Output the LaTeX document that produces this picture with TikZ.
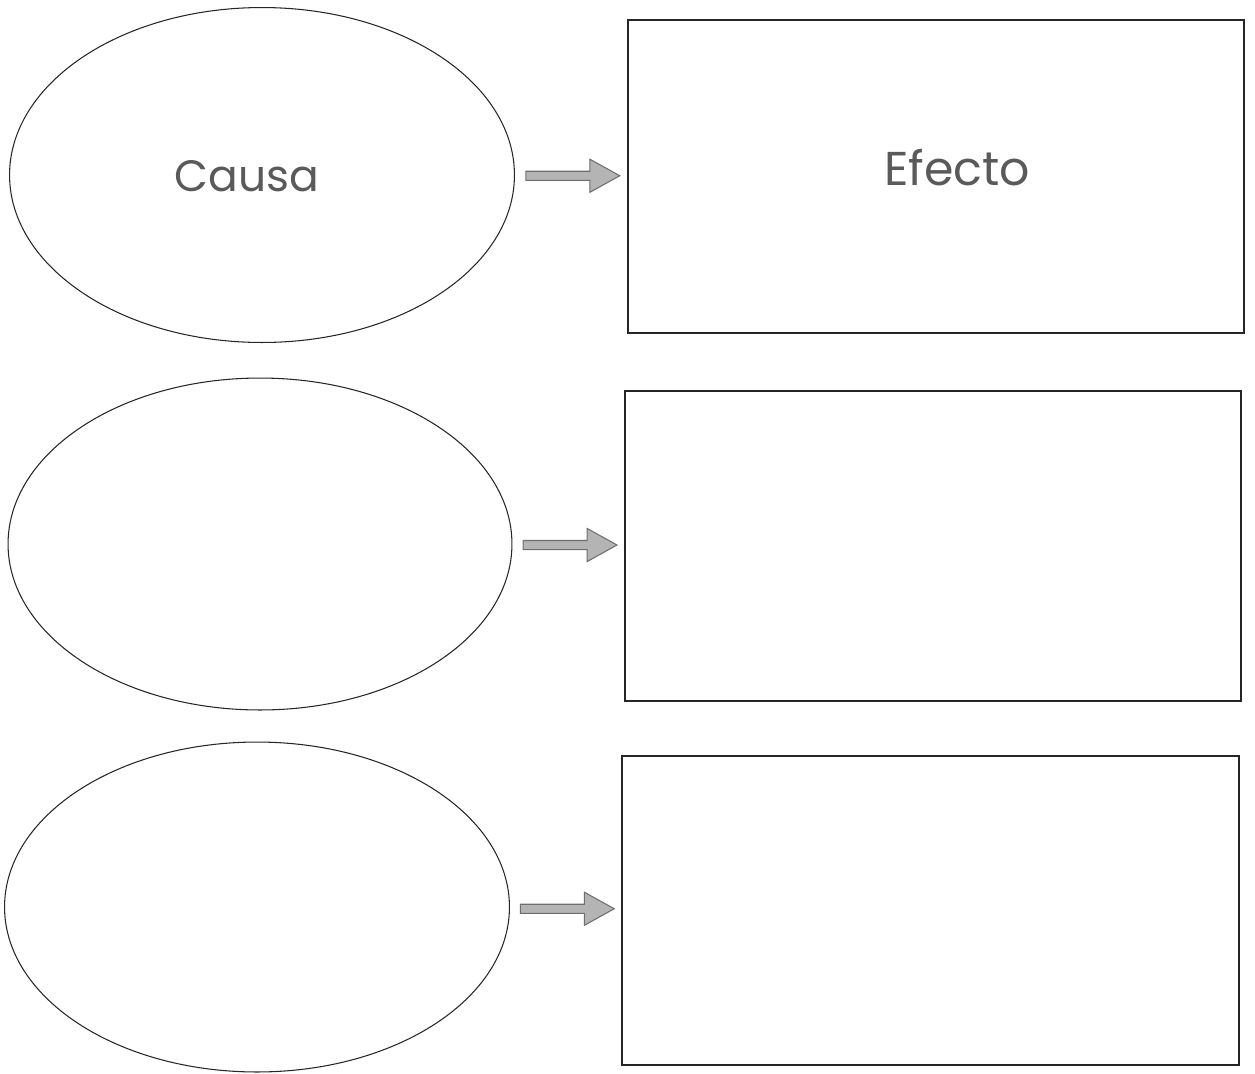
\documentclass[tikz,border=0pt]{standalone}
\usepackage{fontspec}
\setmainfont{Poppins}
\usetikzlibrary{shapes.geometric,shapes.arrows,calc}
\definecolor{txtgray}{HTML}{5A5A5A}
\definecolor{arrfill}{HTML}{B4B4B4}
\definecolor{arredge}{HTML}{6E6E6E}
\tikzset{
  causa/.style={ellipse, draw=black!85, line width=0.6pt, inner sep=0pt},
  efecto/.style={rectangle, draw=black!85, line width=0.75pt, inner sep=0pt},
  grayarrow/.style={single arrow, draw=arredge, fill=arrfill, line width=0.6pt,
    inner sep=0pt, inner ysep=0.08cm, minimum height=1.88cm,
    single arrow head extend=0.24cm, single arrow tip angle=58, xshift=-0.05cm},
  lbl/.style={text=txtgray, font=\fontsize{27}{30}\selectfont}
}
\begin{document}
\begin{tikzpicture}[x=0.02cm,y=-0.02cm]
\useasboundingbox (0,0) rectangle (1255,1073);
% row 1
\node[causa, minimum width=10.1cm, minimum height=6.7cm] (e1) at (262,175) {};
\node[efecto, minimum width=12.32cm, minimum height=6.26cm] (r1) at (936,176.5) {};
\node[grayarrow] (a1) at ($(e1.east)!0.5!(r1.west)$) {};
\node[lbl, font=\fontsize{25}{28}\selectfont] (t1) at (247,176) {Causa};
\node[lbl] (t2) at (957,168) {Efecto};
% row 2
\node[causa, minimum width=10.08cm, minimum height=6.64cm] (e2) at (260,544) {};
\node[efecto, minimum width=12.32cm, minimum height=6.2cm] (r2) at (933,546) {};
\node[grayarrow] (a2) at ($(e2.east)!0.5!(r2.west)$) {};
% row 3
\node[causa, minimum width=10.1cm, minimum height=6.6cm] (e3) at (257,907) {};
\node[efecto, minimum width=12.34cm, minimum height=6.18cm] (r3) at (930.5,910.5) {};
\node[grayarrow] (a3) at ($(e3.east)!0.5!(r3.west)$) {};
\end{tikzpicture}
\end{document}
